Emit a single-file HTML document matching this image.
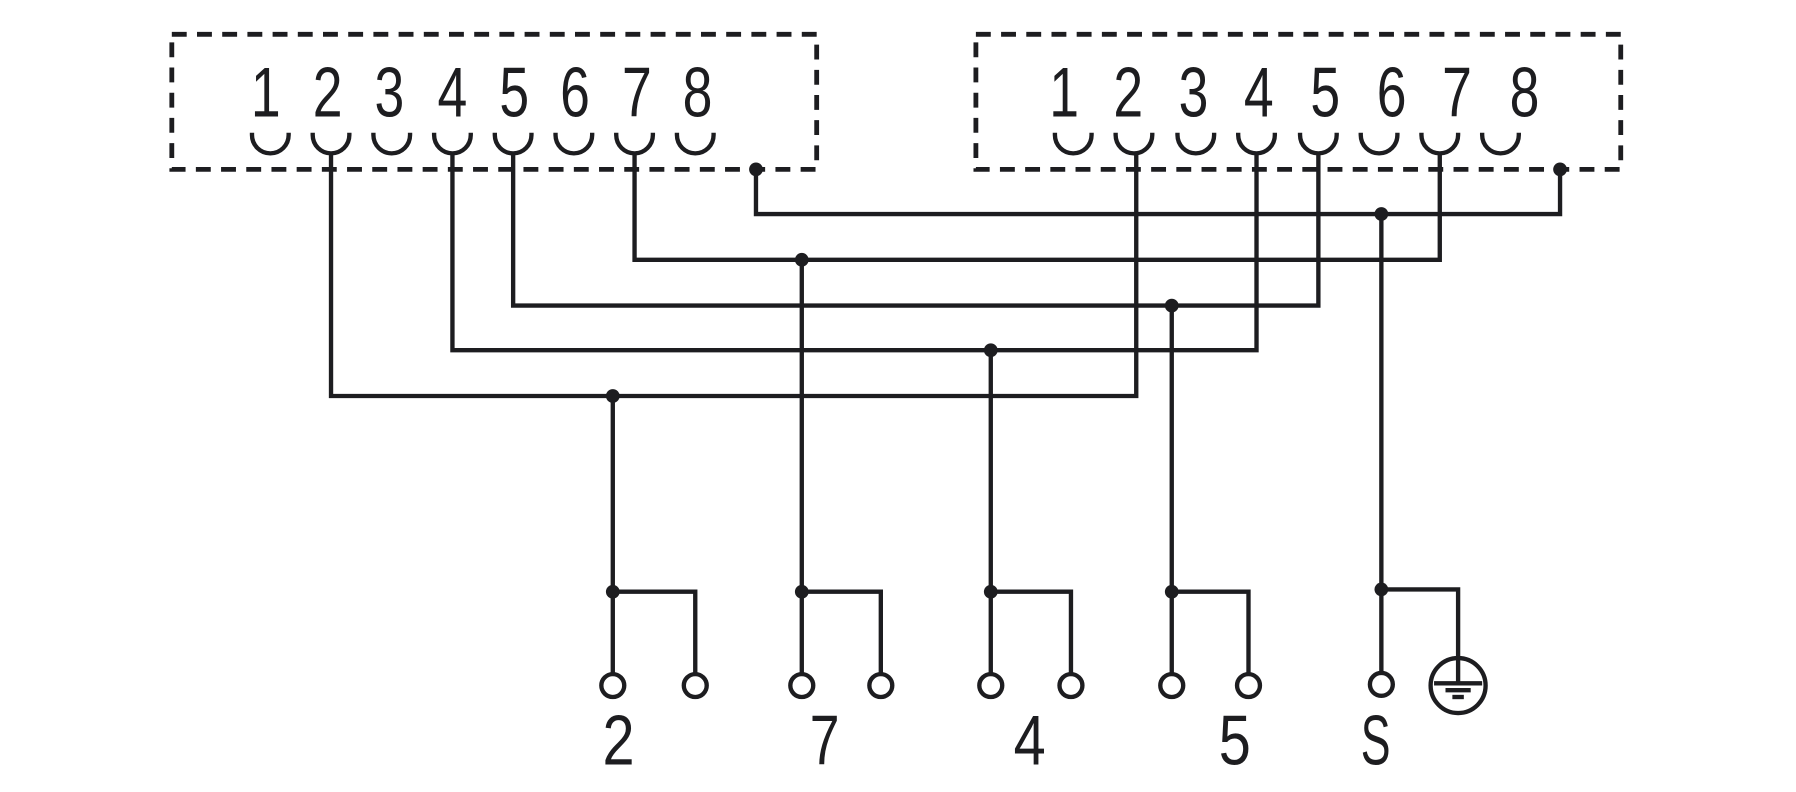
<!DOCTYPE html>
<html><head><style>html,body{margin:0;padding:0;background:#fff}svg{display:block}</style></head>
<body>
<svg width="1796" height="792" viewBox="0 0 1568 692" preserveAspectRatio="none" xmlns="http://www.w3.org/2000/svg">
<g fill="none" stroke="#1d1d20" stroke-width="3.8">
<rect x="150" y="30" width="563" height="118" stroke-dasharray="13,9" stroke-width="4.2"/>
<rect x="852" y="30" width="563" height="118" stroke-dasharray="13,9" stroke-width="4.2"/>
<g>
<path d="M220,116 v2 a16,16 0 0 0 32,0 v-2"/><path d="M273,116 v2 a16,16 0 0 0 32,0 v-2"/><path d="M326,116 v2 a16,16 0 0 0 32,0 v-2"/><path d="M379,116 v2 a16,16 0 0 0 32,0 v-2"/>
<path d="M432,116 v2 a16,16 0 0 0 32,0 v-2"/><path d="M485,116 v2 a16,16 0 0 0 32,0 v-2"/><path d="M538,116 v2 a16,16 0 0 0 32,0 v-2"/><path d="M591,116 v2 a16,16 0 0 0 32,0 v-2"/>
</g>
<g>
<path d="M921,116 v2 a16,16 0 0 0 32,0 v-2"/><path d="M974,116 v2 a16,16 0 0 0 32,0 v-2"/><path d="M1028,116 v2 a16,16 0 0 0 32,0 v-2"/><path d="M1081,116 v2 a16,16 0 0 0 32,0 v-2"/>
<path d="M1135,116 v2 a16,16 0 0 0 32,0 v-2"/><path d="M1188,116 v2 a16,16 0 0 0 32,0 v-2"/><path d="M1241,116 v2 a16,16 0 0 0 32,0 v-2"/><path d="M1294,116 v2 a16,16 0 0 0 32,0 v-2"/>
</g>
<polyline points="660,148 660,187 1362,187 1362,148"/>
<polyline points="554,134 554,227 1257,227 1257,134"/>
<polyline points="448,134 448,267 1151,267 1151,134"/>
<polyline points="395,134 395,306 1097,306 1097,134"/>
<polyline points="289,134 289,346 992,346 992,134"/>
<line x1="1206" y1="187" x2="1206" y2="589"/>
<line x1="700" y1="227" x2="700" y2="589"/>
<line x1="1023" y1="267" x2="1023" y2="589"/>
<line x1="865" y1="306" x2="865" y2="589"/>
<line x1="535" y1="346" x2="535" y2="589"/>
<polyline points="535,517 607,517 607,589"/>
<polyline points="700,517 769,517 769,589"/>
<polyline points="865,517 935,517 935,589"/>
<polyline points="1023,517 1090,517 1090,589"/>
<polyline points="1206,515 1273,515 1273,597"/>
<circle cx="535" cy="599" r="10"/><circle cx="607" cy="599" r="10"/>
<circle cx="700" cy="599" r="10"/><circle cx="769" cy="599" r="10"/>
<circle cx="865" cy="599" r="10"/><circle cx="935" cy="599" r="10"/>
<circle cx="1023" cy="599" r="10"/><circle cx="1090" cy="599" r="10"/>
<circle cx="1206" cy="598" r="10"/>
<circle cx="1273" cy="599" r="24"/>
<line x1="1252" y1="597" x2="1294" y2="597"/>
<line x1="1262" y1="603" x2="1284" y2="603"/>
<line x1="1268" y1="609" x2="1278" y2="609"/>
</g>
<g fill="#1d1d20">
<circle cx="660" cy="148" r="6"/><circle cx="1362" cy="148" r="6"/>
<circle cx="1206" cy="187" r="6"/><circle cx="700" cy="227" r="6"/><circle cx="1023" cy="267" r="6"/><circle cx="865" cy="306" r="6"/><circle cx="535" cy="346" r="6"/>
<circle cx="535" cy="517" r="6"/><circle cx="700" cy="517" r="6"/><circle cx="865" cy="517" r="6"/><circle cx="1023" cy="517" r="6"/><circle cx="1206" cy="515" r="6"/>
</g>
<g fill="#1d1d20" font-family="'Liberation Sans',sans-serif" font-size="62" text-anchor="middle" lengthAdjust="spacingAndGlyphs">
<text x="232" y="102" textLength="26" lengthAdjust="spacingAndGlyphs">1</text><text x="286" y="102" textLength="26" lengthAdjust="spacingAndGlyphs">2</text><text x="340" y="102" textLength="26" lengthAdjust="spacingAndGlyphs">3</text><text x="395" y="102" textLength="26" lengthAdjust="spacingAndGlyphs">4</text>
<text x="449" y="102" textLength="26" lengthAdjust="spacingAndGlyphs">5</text><text x="502" y="102" textLength="26" lengthAdjust="spacingAndGlyphs">6</text><text x="556" y="102" textLength="26" lengthAdjust="spacingAndGlyphs">7</text><text x="609" y="102" textLength="26" lengthAdjust="spacingAndGlyphs">8</text>
<text x="929" y="102" textLength="26" lengthAdjust="spacingAndGlyphs">1</text><text x="985" y="102" textLength="26" lengthAdjust="spacingAndGlyphs">2</text><text x="1042" y="102" textLength="26" lengthAdjust="spacingAndGlyphs">3</text><text x="1099" y="102" textLength="26" lengthAdjust="spacingAndGlyphs">4</text>
<text x="1157" y="102" textLength="26" lengthAdjust="spacingAndGlyphs">5</text><text x="1215" y="102" textLength="26" lengthAdjust="spacingAndGlyphs">6</text><text x="1272" y="102" textLength="26" lengthAdjust="spacingAndGlyphs">7</text><text x="1331" y="102" textLength="26" lengthAdjust="spacingAndGlyphs">8</text>
<text x="540" y="668" textLength="28" lengthAdjust="spacingAndGlyphs">2</text><text x="720" y="668" textLength="26" lengthAdjust="spacingAndGlyphs">7</text><text x="899" y="668" textLength="28" lengthAdjust="spacingAndGlyphs">4</text><text x="1078" y="668" textLength="28" lengthAdjust="spacingAndGlyphs">5</text><text x="1201" y="668" textLength="26" lengthAdjust="spacingAndGlyphs">S</text>
</g>
</svg>
</body></html>
